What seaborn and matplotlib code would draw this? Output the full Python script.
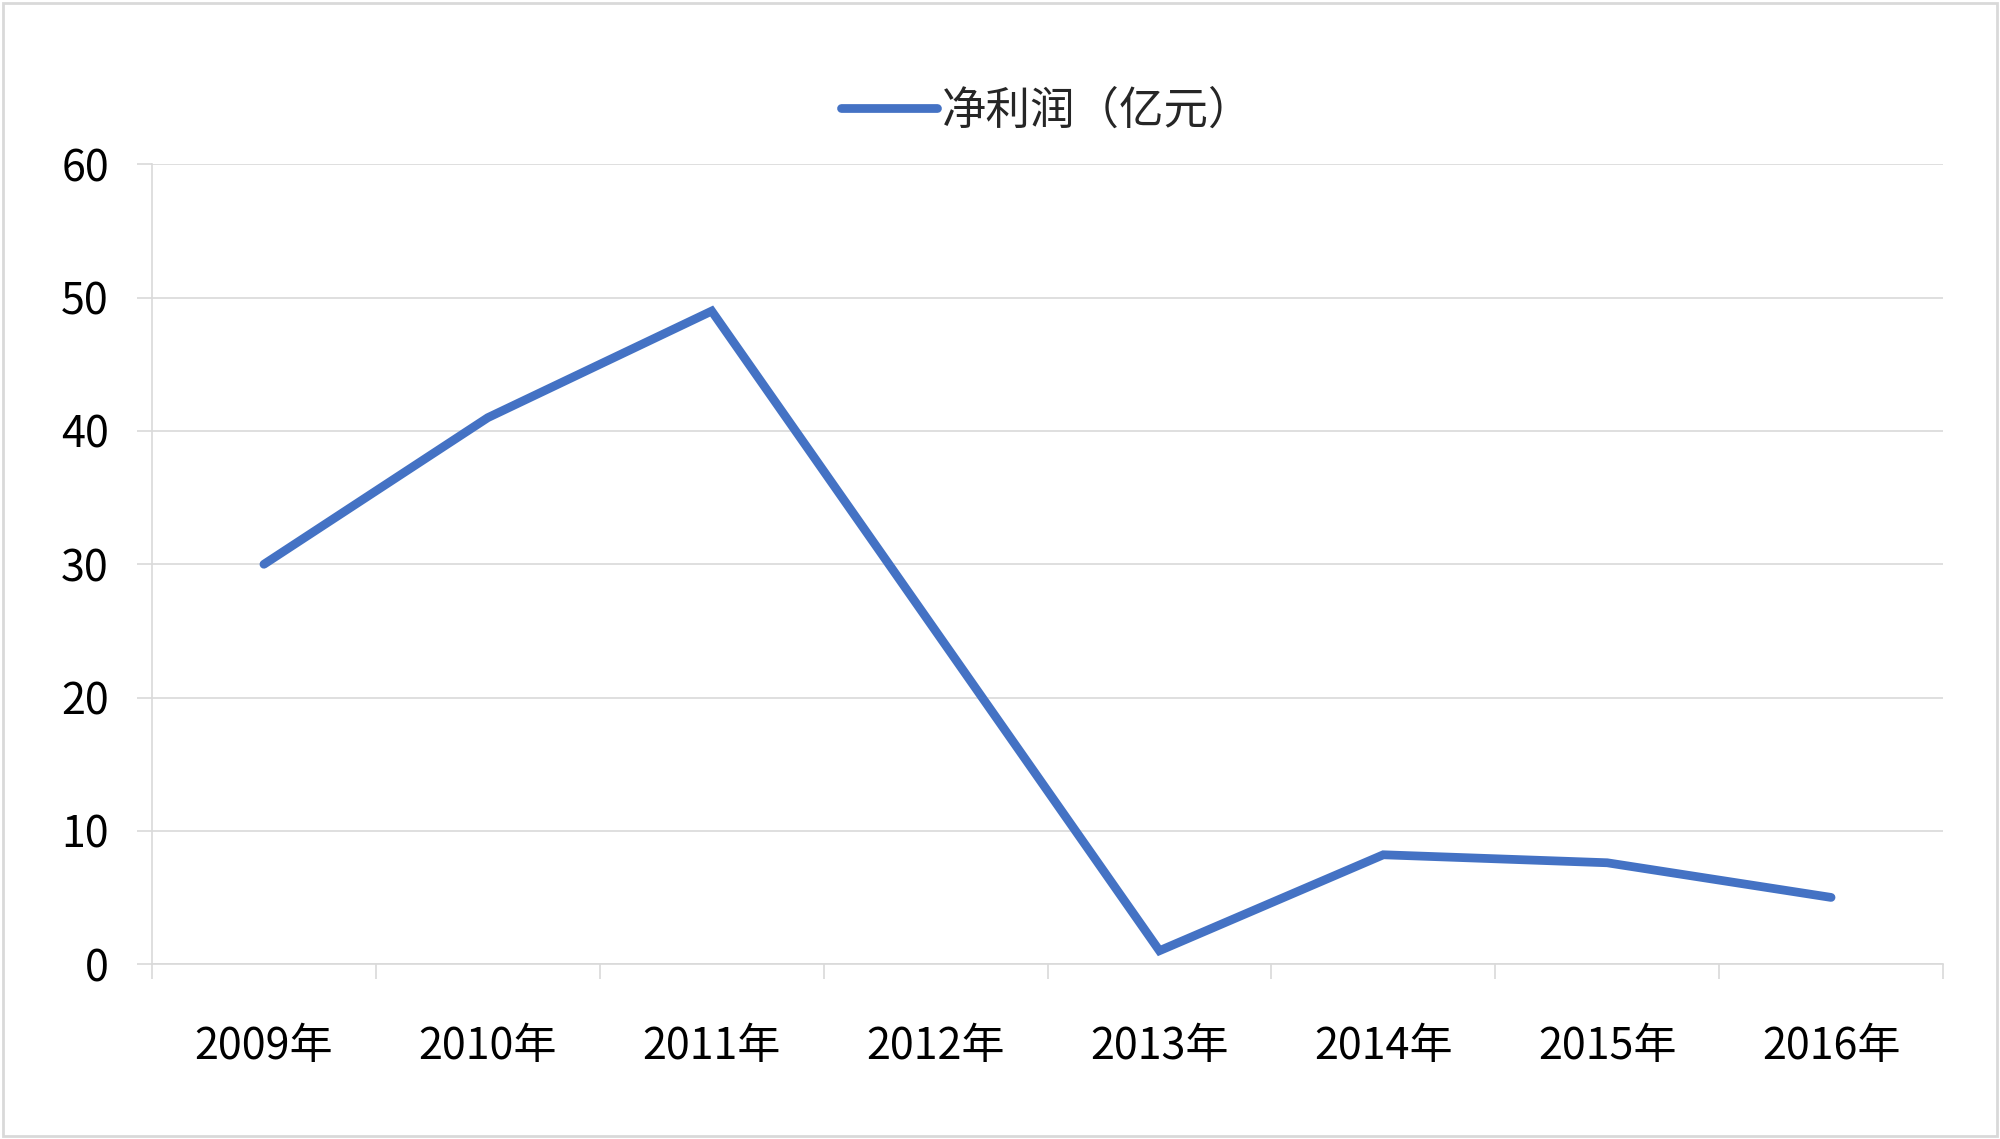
import matplotlib
matplotlib.use("Agg")
import matplotlib.pyplot as plt
import seaborn as sns
import pandas as pd
from matplotlib.patches import Rectangle

years = ["2009年", "2010年", "2011年", "2012年", "2013年", "2014年", "2015年", "2016年"]
net_profit = [30, 41, 49, 25, 1, 8.2, 7.6, 5.0]
y_ticks = [0, 10, 20, 30, 40, 50, 60]
series_name = "净利润（亿元）"

sns.set_theme(style="white")
plt.rcParams['font.family'] = ['Noto Sans CJK SC', 'DejaVu Sans']

df = pd.DataFrame({"year": years, "value": net_profit})

fig = plt.figure(figsize=(20, 11.39), dpi=100)
ax = fig.add_axes([0.076, 0.1536, 0.8955, 0.702])

sns.lineplot(data=df, x="year", y="value", ax=ax, color="#4472C4",
             linewidth=6.3, label=series_name, sort=False,
             solid_capstyle="round", solid_joinstyle="miter")

ax.set_xlim(-0.5, len(years) - 0.5)
ax.set_ylim(0, 60)
ax.set_yticks(y_ticks)
ax.set_yticklabels([str(v) for v in y_ticks], fontsize=31)
ax.set_xlabel("")
ax.set_ylabel("")

grid_c = "#D9D9D9"
ax.grid(axis="y", color=grid_c, linewidth=1.2)
ax.set_axisbelow(True)

for s in ["top", "right"]:
    ax.spines[s].set_visible(False)
ax.spines["bottom"].set_color(grid_c)
ax.spines["bottom"].set_linewidth(1.2)
ax.spines["left"].set_color(grid_c)
ax.spines["left"].set_linewidth(1.2)

ax.set_xticks(range(len(years)))
ax.set_xticklabels(years, fontsize=31)
ax.set_xticks([i - 0.5 for i in range(len(years) + 1)], minor=True)
ax.tick_params(axis="x", which="major", length=0, pad=44, labelsize=31, colors="black")
ax.tick_params(axis="x", which="minor", length=11, width=1.2, color=grid_c, bottom=True)
ax.tick_params(axis="y", which="major", length=11, width=1.2, color=grid_c, left=True, pad=20, labelsize=31)
for lab in ax.get_xticklabels() + ax.get_yticklabels():
    lab.set_color("black")

leg = ax.legend(loc="center", bbox_to_anchor=(0.5236, 0.903), bbox_transform=fig.transFigure,
                frameon=False, fontsize=32, handlelength=2.15, handletextpad=0.12)

fig.patches.append(Rectangle((0.0015, 0.0025), 0.997, 0.995, transform=fig.transFigure,
                             fill=False, edgecolor="#D9D9D9", linewidth=2))

fig.savefig("out.png", dpi=100, facecolor="white")
